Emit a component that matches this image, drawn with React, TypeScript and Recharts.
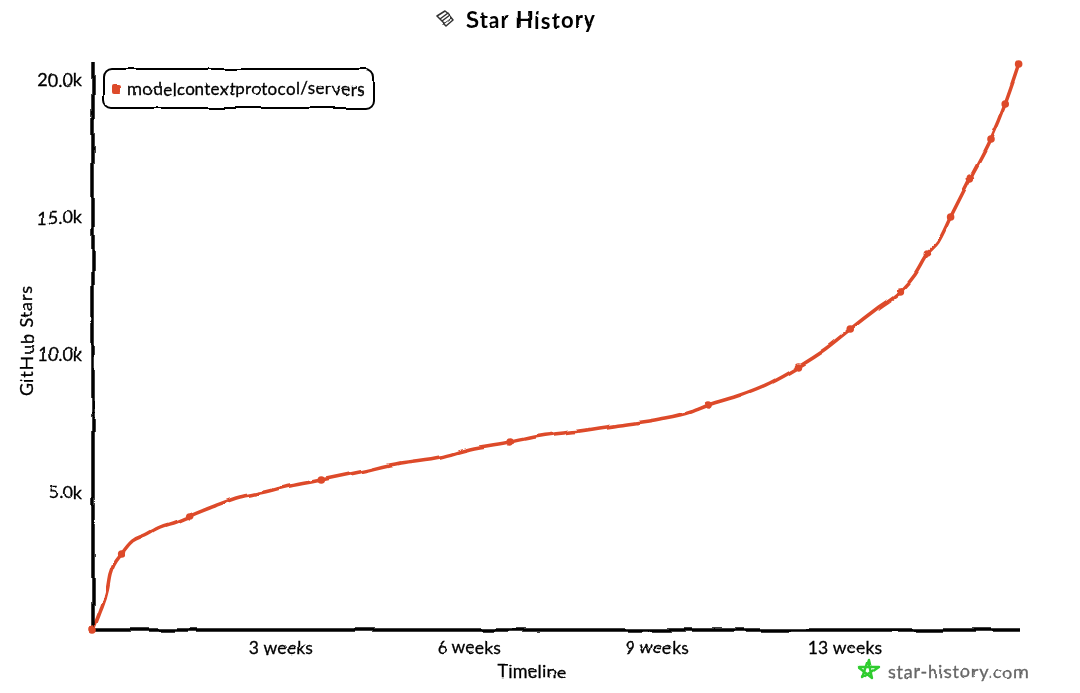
import React from "react";
import { LineChart, Line, XAxis, YAxis, Label } from "recharts";

const seriesName = "modelcontextprotocol/servers";
const days = [0, 0.8, 1.6, 1.9, 3.2, 4.4, 5.8, 7.5, 9.2, 10.8, 13.6, 16.4, 18.7, 22, 25.5, 29.8, 34.3, 38.8, 42.1, 46.6, 49.9, 54.4, 58.9, 63.3, 66.7, 68.7, 72.3, 75.6, 78.8, 81.9, 84.7, 87.9, 90.3, 91.8, 93.2, 94.4, 95.8, 98, 100.2, 101.9, 103.4];
const stars = [0, 655, 1455, 2000, 2764, 3236, 3455, 3745, 3927, 4145, 4509, 4836, 4982, 5236, 5455, 5745, 6073, 6291, 6582, 6836, 7055, 7236, 7455, 7673, 7927, 8182, 8545, 8982, 9564, 10218, 10945, 11745, 12327, 12909, 13673, 14109, 15018, 16436, 17818, 19164, 20582];
const markerDays = [0, 3.2, 10.8, 25.5, 46.6, 68.7, 78.8, 84.7, 90.3, 93.2, 95.8, 98, 100.2, 101.9, 103.4];
const xTicks = [21, 42, 63, 84];
const xTickLabels = ["3 weeks", "6 weeks", "9 weeks", "13 weeks"];
const yTicks = [5000, 10000, 15000, 20000];
const yTickLabels = ["5.0k", "10.0k", "15.0k", "20.0k"];

const data = days.map((d, i) => ({ day: d, stars: stars[i] }));
const FONT = "Lato, sans-serif";
const RED = "#DD4A2A";

const SketchLegend = () => (
  <div
    style={{
      width: 269,
      height: 37,
      border: "2.5px solid #000",
      borderRadius: 9,
      display: "flex",
      alignItems: "center",
      fontFamily: FONT,
      fontSize: 17,
      color: "#000",
      boxSizing: "content-box",
      background: "#fff",
      WebkitTextStroke: "0.3px #000",
    }}
  >
    <span style={{ width: 9, height: 9, background: RED, borderRadius: 2, marginLeft: 8, marginRight: 7, flex: "none" }} />
    <span style={{ whiteSpace: "nowrap", letterSpacing: 0.38 }}>{seriesName}</span>
  </div>
);

export default function App() {
  return (
    <div style={{ position: "absolute", left: 0, top: 0, width: 1080, height: 693, background: "#fff" }}>
      <svg width="0" height="0" style={{ position: "absolute" }}>
        <defs>
          <filter id="rough" x="0" y="0" width="100%" height="100%" colorInterpolationFilters="sRGB">
            <feTurbulence type="fractalNoise" baseFrequency="0.025" numOctaves={2} seed={4} result="n" />
            <feDisplacementMap in="SourceGraphic" in2="n" scale={4} xChannelSelector="R" yChannelSelector="G" result="d" />
            <feGaussianBlur in="d" stdDeviation={0.45} />
          </filter>
        </defs>
      </svg>
      <div style={{ filter: "url(#rough)", width: 1080, height: 693, position: "relative" }}>
        <LineChart width={1080} height={693} data={data} margin={{ top: 62, right: 61, bottom: 0, left: 0 }}>
          <XAxis
            type="number"
            dataKey="day"
            domain={[0, 103.44]}
            ticks={xTicks}
            tickFormatter={(v: number) => xTickLabels[xTicks.indexOf(v)]}
            height={63}
            tickLine={false}
            tickMargin={6}
            axisLine={{ stroke: "#000", strokeWidth: 3.5 }}
            tick={{ fill: "#000", stroke: "#000", strokeWidth: 0.3, fontFamily: FONT, fontSize: 17.5, letterSpacing: 0.2 }}
            interval={0}
          >
            <Label value="Timeline" position="insideBottom" offset={15} dx={-24} fill="#000" stroke="#000" strokeWidth={0.3} fontFamily={FONT} fontSize={18} letterSpacing={0.2} />
          </XAxis>
          <YAxis
            type="number"
            domain={[0, 20655]}
            ticks={yTicks}
            tickFormatter={(v: number) => yTickLabels[yTicks.indexOf(v)]}
            width={93}
            tickLine={false}
            tickMargin={5}
            axisLine={{ stroke: "#000", strokeWidth: 3.5 }}
            tick={{ fill: "#000", stroke: "#000", strokeWidth: 0.3, fontFamily: FONT, fontSize: 18 }}
            interval={0}
          >
            <Label value="GitHub Stars" angle={-90} position="insideLeft" offset={27} dy={-6} fill="#000" stroke="#000" strokeWidth={0.3} fontFamily={FONT} fontSize={18} letterSpacing={0.9} style={{ textAnchor: "middle" }} />
          </YAxis>
          <Line
            type="monotone"
            dataKey="stars"
            name={seriesName}
            stroke={RED}
            strokeWidth={3.5}
            isAnimationActive={false}
            dot={(p: any) =>
              markerDays.includes(p.payload.day) ? (
                <circle key={p.index} cx={p.cx} cy={p.cy} r={3.8} fill={RED} stroke="none" />
              ) : (
                <g key={p.index} />
              )
            }
            activeDot={false}
          />
        </LineChart>
        <div style={{ position: "absolute", left: 102, top: 68 }}>
          <SketchLegend />
        </div>
        <svg width={1080} height={693} style={{ position: "absolute", left: 0, top: 0, pointerEvents: "none" }}>
          <g fill="none" stroke="#333" strokeWidth={1.5} strokeLinecap="round" strokeLinejoin="round">
            <path d="M436 16 L444 11 L449 15 L441 21 M436 16 L441 21 L446 26 L453 20 L449 15 M439 19 L447 13 M443 24 L451 18" />
          </g>
          <text x={531.5} y={28} textAnchor="middle" fontFamily={FONT} fontSize={22} fontWeight={700} letterSpacing={1.2} fill="#000">
            Star History
          </text>
          <path d="M869 660 L873 678 L859 667 L879 667 L863 678 Z" fill="none" stroke="#2ECC2E" strokeWidth={2.4} strokeLinejoin="round" />
          <text x={888} y={678} fontFamily={FONT} fontSize={18} letterSpacing={0.8} fill="#666" stroke="#666" strokeWidth={0.3}>
            star-history.com
          </text>
        </svg>
      </div>
    </div>
  );
}
